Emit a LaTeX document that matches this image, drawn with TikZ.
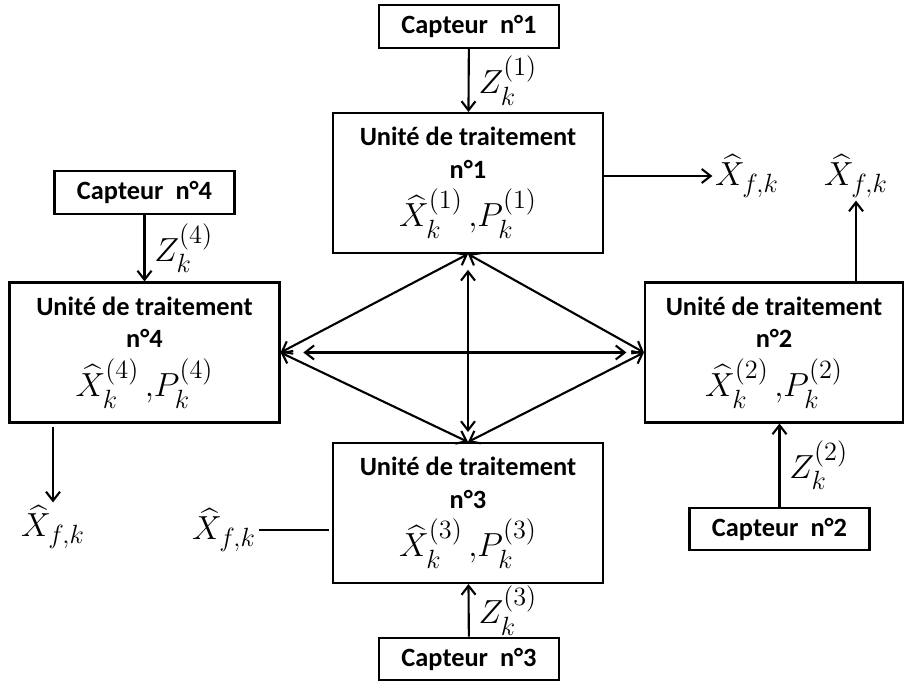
\documentclass[tikz,border=0pt]{standalone}
\usepackage{fix-cm}
\usepackage{amsmath}
\usepackage{fontspec}
\setmainfont{Carlito}
\usepackage{tikz}
\usetikzlibrary{arrows.meta}
\DeclareMathSizes{15}{19}{15}{12}

\tikzset{
  unite/.style={draw, minimum width=5.4cm, minimum height=2.8cm, align=center, font=\bfseries},
  capteur/.style={draw, minimum width=3.6cm, minimum height=0.85cm, font=\bfseries},
  lab/.style={inner sep=1pt}
}

\begin{document}
\begin{tikzpicture}[x=0.02cm, y=-0.02cm, line width=1.2pt, >={Straight Barb[length=1.8mm,width=2.8mm]}]
        \fontsize{15}{18.5}\selectfont
        \useasboundingbox (0,0) rectangle (905,682);

        \node[capteur] (c1) at (469,26.5){Capteur~ n°1};
        \node[capteur] (c4) at (144.5,192.5){Capteur~ n°4};
        \node[capteur] (c2) at (779.5,529){Capteur~ n°2};
        \node[capteur] (c3) at (469,659){Capteur~ n°3};

        \node[unite] (u1) at (468,183){Unité de traitement\\ n°1\\[5pt] $\widehat{X}_k^{(1)}\,{,}P_k^{(1)}$};
        \node[unite] (u4) at (144.5,352.5){Unité de traitement\\ n°4\\[5pt] $\widehat{X}_k^{(4)}\,{,}P_k^{(4)}$};
        \node[unite, minimum width=5.16cm] (u2) at (774,352.5){Unité de traitement\\ n°2\\[5pt] $\widehat{X}_k^{(2)}\,{,}P_k^{(2)}$};
        \node[unite] (u3) at (468,513){Unité de traitement\\ n°3\\[5pt] $\widehat{X}_k^{(3)}\,{,}P_k^{(3)}$};

        \node[lab] (xf1) at (747,176){$\widehat{X}_{f,k}$};
        \node[lab] (xf2) at (856,176){$\widehat{X}_{f,k}$};
        \node[lab] (xf4) at (53,527){$\widehat{X}_{f,k}$};
        \node[lab] (xf3) at (224,530){$\widehat{X}_{f,k}$};

        % mesures
        \path[->] (c1) edge node[right]{$Z_k^{(1)}$} (u1);
        \path[->] (c4) edge node[right]{$Z_k^{(4)}$} (u4);
        \path[->] (c3) edge node[right]{$Z_k^{(3)}$} (u3);
        \path[->] (c2.north) edge node[right]{$Z_k^{(2)}$} (c2.north |- u2.south);

        % echanges
        \path[<->] (u1.south) edge (u4.east);
        \path[<->] (u1.south) edge (u2.west);
        \path[<->] (u3.north) edge (u4.east);
        \path[<->] (u3.north) edge (u2.west);
        \path[<->, shorten <=9pt, shorten >=5.7pt] (u1.south) edge (u3.north);
        \path[<->, shorten <=13pt, shorten >=10pt] (u4.east) edge (u2.west);

        % sorties
        \path[->] (u1.east |- xf1) edge (xf1.west);
        \path[->] (u2.north -| xf2.south) edge (xf2.south);
        \path[->, shorten <=1.7pt] (u4.south -| xf4) edge (xf4.north);
        \path[-, shorten <=1.7pt] (u3.west |- xf3) edge (xf3.east);

    \end{tikzpicture}
\end{document}
